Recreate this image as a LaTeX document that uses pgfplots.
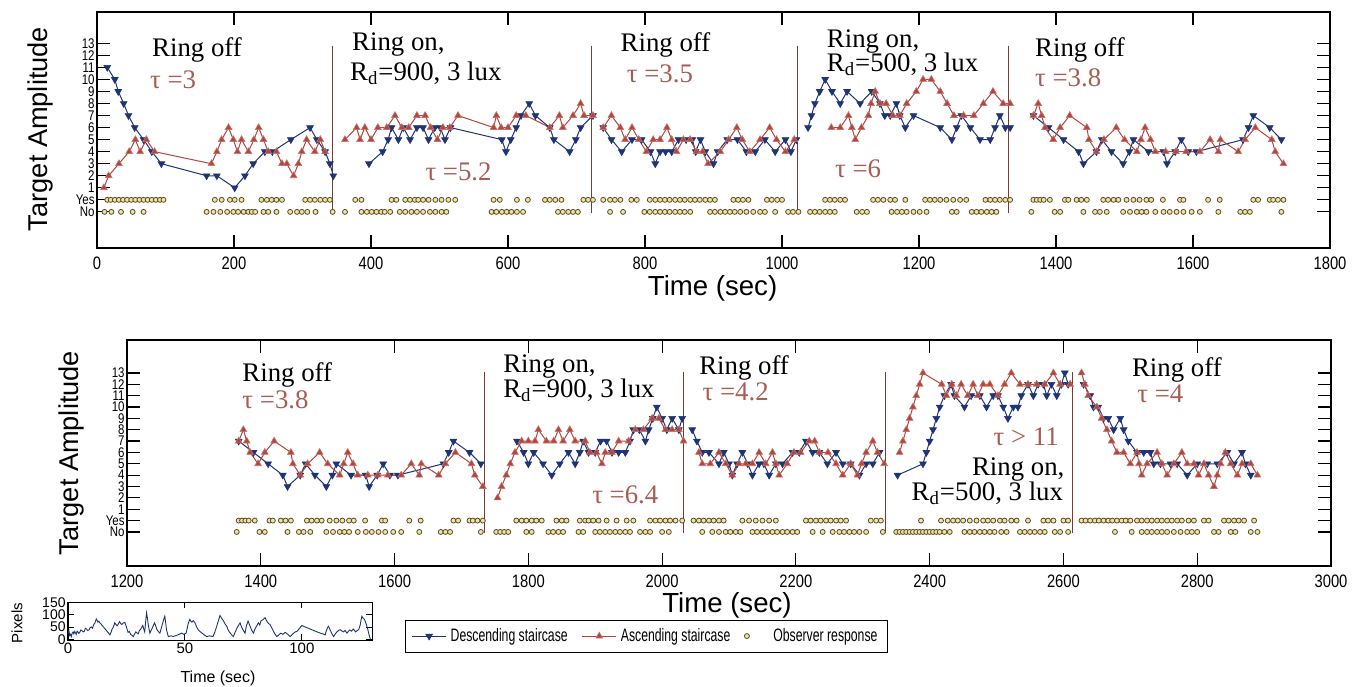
\documentclass[border=0pt]{standalone}
\usepackage{pgfplots}
\usepackage{pgfplotstable}
\pgfplotsset{compat=1.18}
\usepackage{fontspec}
\setmainfont{Liberation Sans}
\newfontfamily\serifa{Liberation Serif}
\newfontfamily\narrow[FakeStretch=0.82]{Liberation Sans}
\newfontfamily\legfont[FakeStretch=0.68]{Liberation Sans}
\definecolor{cblue}{RGB}{30,52,118}
\definecolor{cred}{RGB}{178,70,60}
\definecolor{ctau}{RGB}{168,92,82}
\definecolor{cline}{RGB}{120,60,48}
\definecolor{cyel}{RGB}{236,230,160}
\definecolor{cresp}{RGB}{95,72,42}

% ---------------- data ----------------
\pgfplotstableread[row sep=\\]{t v\\ 15 11\\ 26 10\\ 31 9\\ 39 8\\ 46 7\\ 55 6\\ 68 5\\ 80 4\\ 94 3\\ 160 2\\ 175 2\\ 201 1\\ 216 2\\ 228 3\\ 245 4\\ 256 4\\ 283 5\\ 311 6\\ 321 5\\ 333 4\\ 340 3\\ 345 2\\}\SoneD
\pgfplotstableread[row sep=\\]{t v\\ 10 1\\ 17 2\\ 32 3\\ 47 4\\ 56 5\\ 63 4\\ 72 5\\ 84 4\\ 167 3\\ 175 4\\ 182 5\\ 192 6\\ 199 5\\ 205 4\\ 211 5\\ 221 4\\ 229 5\\ 236 6\\ 243 5\\ 250 4\\ 262 4\\ 270 3\\ 277 3\\ 287 2\\ 294 3\\ 299 4\\ 306 5\\ 318 4\\ 326 5\\ 333 4\\}\SoneA
\pgfplotstableread[row sep=\\]{t v\\ 397 3\\ 417 4\\ 425 5\\ 430 6\\ 440 5\\ 447 6\\ 457 5\\ 467 6\\ 476 6\\ 484 5\\ 493 6\\ 501 6\\ 508 5\\ 516 6\\ 591 5\\ 597 4\\ 604 5\\ 612 6\\ 619 7\\ 631 8\\ 640 7\\ 661 6\\ 667 5\\ 690 4\\ 699 5\\ 706 6\\ 724 7\\}\StwoD
\pgfplotstableread[row sep=\\]{t v\\ 362 5\\ 379 6\\ 384 5\\ 391 6\\ 400 5\\ 410 6\\ 423 6\\ 435 7\\ 445 6\\ 455 6\\ 467 7\\ 479 7\\ 487 6\\ 497 5\\ 505 6\\ 515 6\\ 527 7\\ 579 6\\ 583 7\\ 590 6\\ 600 6\\ 612 7\\ 626 7\\ 661 6\\ 675 7\\ 680 6\\ 695 7\\ 706 8\\ 711 7\\ 724 7\\}\StwoA
\pgfplotstableread[row sep=\\]{t v\\ 739 6\\ 751 5\\ 766 4\\ 781 5\\ 795 5\\ 808 4\\ 815 3\\ 822 4\\ 830 4\\ 839 4\\ 849 5\\ 860 5\\ 869 5\\ 874 4\\ 881 5\\ 888 4\\ 900 3\\ 906 4\\ 920 5\\ 935 5\\ 948 4\\ 961 4\\ 975 5\\ 990 4\\ 1005 5\\ 1013 4\\ 1021 5\\}\SthreeD
\pgfplotstableread[row sep=\\]{t v\\ 739 6\\ 751 7\\ 764 6\\ 771 5\\ 781 6\\ 791 5\\ 802 4\\ 812 5\\ 822 5\\ 832 6\\ 839 5\\ 846 4\\ 856 5\\ 866 5\\ 875 4\\ 884 4\\ 892 3\\ 910 4\\ 922 5\\ 934 6\\ 942 5\\ 953 4\\ 968 5\\ 982 6\\ 992 5\\ 1005 4\\ 1018 5\\}\SthreeA
\pgfplotstableread[row sep=\\]{t v\\ 1038 6\\ 1043 7\\ 1048 8\\ 1055 9\\ 1063 10\\ 1073 9\\ 1085 8\\ 1095 9\\ 1114 8\\ 1131 9\\ 1143 8\\ 1150 7\\ 1158 7\\ 1167 8\\ 1172 7\\ 1180 6\\ 1192 7\\ 1231 6\\ 1248 5\\ 1255 6\\ 1262 7\\ 1275 6\\ 1289 5\\ 1304 5\\ 1311 6\\ 1318 7\\ 1326 6\\ 1333 6\\}\SfourD
\pgfplotstableread[row sep=\\]{t v\\ 1072 6\\ 1085 6\\ 1097 7\\ 1102 6\\ 1107 5\\ 1116 6\\ 1126 7\\ 1130 8\\ 1136 9\\ 1143 8\\ 1152 8\\ 1162 7\\ 1172 7\\ 1182 8\\ 1196 9\\ 1206 10\\ 1218 10\\ 1231 9\\ 1241 8\\ 1251 7\\ 1265 7\\ 1280 7\\ 1294 8\\ 1308 9\\ 1323 8\\ 1333 8\\}\SfourA
\pgfplotstableread[row sep=\\]{t v\\ 1367 7\\ 1389 6\\ 1411 5\\ 1433 4\\ 1440 3\\ 1459 4\\ 1467 5\\ 1481 4\\ 1498 3\\ 1507 4\\ 1513 5\\ 1535 4\\ 1557 4\\ 1562 3\\ 1574 4\\ 1583 5\\ 1593 4\\ 1605 4\\ 1673 5\\ 1681 6\\ 1688 7\\ 1712 6\\ 1729 5\\}\SfiveD
\pgfplotstableread[row sep=\\]{t v\\ 1367 7\\ 1374 8\\ 1379 7\\ 1384 6\\ 1396 5\\ 1406 6\\ 1420 7\\ 1445 6\\ 1448 5\\ 1459 4\\ 1470 5\\ 1488 6\\ 1500 5\\ 1518 4\\ 1524 5\\ 1530 6\\ 1538 5\\ 1545 4\\ 1560 4\\ 1575 4\\ 1590 4\\ 1610 4\\ 1625 5\\ 1637 4\\ 1640 5\\ 1666 4\\ 1676 5\\ 1691 6\\ 1715 5\\ 1720 4\\ 1732 3\\}\SfiveA
\pgfplotstableread[row sep=\\]{t v\\ 1783 7\\ 1793 6\\ 1800 5\\ 1808 6\\ 1822 5\\ 1835 4\\ 1847 5\\ 1860 6\\ 1870 5\\ 1877 6\\ 1882 7\\ 1890 6\\ 1900 6\\ 1908 7\\ 1917 7\\ 1925 6\\ 1935 6\\ 1945 6\\ 1952 7\\ 1957 8\\ 1966 8\\ 1975 7\\ 1980 8\\ 1986 9\\ 1992 10\\ 2000 9\\ 2007 8\\ 2015 9\\ 2025 8\\ 2030 9\\}\SsixD
\pgfplotstableread[row sep=\\]{t v\\ 1754 2\\ 1760 3\\ 1767 4\\ 1773 5\\ 1780 6\\ 1790 7\\ 1800 7\\ 1810 7\\ 1815 8\\ 1827 7\\ 1838 7\\ 1845 8\\ 1852 7\\ 1862 8\\ 1870 7\\ 1885 7\\ 1892 6\\ 1902 6\\ 1910 5\\ 1915 6\\ 1925 6\\ 1935 7\\ 1950 7\\ 1960 8\\ 1972 8\\ 1985 9\\ 1995 9\\ 2005 8\\ 2015 8\\ 2025 8\\ 2032 7\\}\SsixA
\pgfplotstableread[row sep=\\]{t v\\ 2045 8\\ 2052 7\\ 2060 6\\ 2070 6\\ 2085 5\\ 2092 6\\ 2100 5\\ 2105 4\\ 2112 5\\ 2120 6\\ 2128 5\\ 2135 4\\ 2145 5\\ 2152 5\\ 2160 4\\ 2170 5\\ 2180 5\\ 2195 6\\ 2205 6\\ 2215 7\\ 2225 6\\ 2235 6\\ 2247 5\\ 2260 6\\ 2270 5\\ 2282 5\\ 2295 4\\ 2305 5\\ 2315 5\\ 2325 6\\}\SsevenD
\pgfplotstableread[row sep=\\]{t v\\ 2055 6\\ 2060 5\\ 2072 5\\ 2085 6\\ 2095 5\\ 2105 4\\ 2115 5\\ 2125 5\\ 2135 5\\ 2145 6\\ 2155 5\\ 2165 6\\ 2170 5\\ 2175 4\\ 2187 5\\ 2197 6\\ 2207 6\\ 2220 7\\ 2228 7\\ 2235 6\\ 2248 6\\ 2260 5\\ 2270 4\\ 2282 5\\ 2292 4\\ 2298 5\\ 2305 6\\ 2315 7\\ 2322 6\\ 2332 5\\}\SsevenA
\pgfplotstableread[row sep=\\]{t v\\ 2352 4\\ 2390 5\\ 2395 6\\ 2400 7\\ 2405 8\\ 2410 9\\ 2415 10\\ 2422 11\\ 2432 12\\ 2437 11\\ 2452 10\\ 2462 11\\ 2475 11\\ 2485 10\\ 2495 11\\ 2502 11\\ 2510 10\\ 2517 9\\ 2525 10\\ 2532 10\\ 2537 11\\ 2547 12\\ 2555 11\\ 2562 12\\ 2570 12\\ 2575 11\\ 2582 12\\ 2590 11\\ 2597 12\\ 2602 13\\ 2607 12\\}\SeightD
\pgfplotstableread[row sep=\\]{t v\\ 2355 6\\ 2360 7\\ 2365 8\\ 2370 9\\ 2375 10\\ 2380 11\\ 2385 12\\ 2390 13\\ 2418 12\\ 2425 11\\ 2433 12\\ 2440 11\\ 2447 12\\ 2457 11\\ 2465 12\\ 2472 11\\ 2480 12\\ 2490 12\\ 2502 11\\ 2512 12\\ 2522 13\\ 2535 12\\ 2547 12\\ 2560 12\\ 2572 12\\ 2585 13\\ 2595 12\\ 2610 12\\}\SeightA
\pgfplotstableread[row sep=\\]{t v\\ 2630 12\\ 2640 11\\ 2645 10\\ 2652 10\\ 2660 9\\ 2667 9\\ 2675 8\\ 2685 9\\ 2690 8\\ 2697 7\\ 2710 6\\ 2720 6\\ 2730 6\\ 2735 5\\ 2745 5\\ 2760 5\\ 2770 5\\ 2785 4\\ 2800 5\\ 2815 5\\ 2830 5\\ 2845 6\\ 2855 5\\ 2867 6\\ 2872 5\\ 2880 4\\}\SnineD
\pgfplotstableread[row sep=\\]{t v\\ 2627 13\\ 2632 12\\ 2637 11\\ 2650 10\\ 2657 9\\ 2665 8\\ 2672 7\\ 2680 6\\ 2690 6\\ 2700 5\\ 2710 6\\ 2713 5\\ 2717 4\\ 2725 5\\ 2740 6\\ 2747 5\\ 2755 4\\ 2765 5\\ 2777 6\\ 2785 5\\ 2795 5\\ 2802 4\\ 2810 5\\ 2817 4\\ 2825 3\\ 2830 4\\ 2835 5\\ 2842 6\\ 2850 5\\ 2860 4\\ 2867 5\\ 2880 5\\ 2890 4\\}\SnineA
% observer responses: r = 0 (Yes) or -1 (No)
\pgfplotstableread[row sep=\\]{t r\\ 15 0\\ 20 0\\ 26 0\\ 32 0\\ 38 0\\ 44 0\\ 50 0\\ 56 0\\ 62 0\\ 68 0\\ 74 0\\ 80 0\\ 86 0\\ 92 0\\ 97 0\\ 172 0\\ 182 0\\ 194 0\\ 201 0\\ 211 0\\ 240 0\\ 248 0\\ 255 0\\ 262 0\\ 270 0\\ 304 0\\ 311 0\\ 318 0\\ 326 0\\ 333 0\\ 340 0\\ 377 0\\ 386 0\\ 430 0\\ 437 0\\ 450 0\\ 457 0\\ 464 0\\ 469 0\\ 476 0\\ 484 0\\ 494 0\\ 503 0\\ 513 0\\ 523 0\\ 579 0\\ 588 0\\ 613 0\\ 629 0\\ 654 0\\ 661 0\\ 669 0\\ 678 0\\ 710 0\\ 717 0\\ 724 0\\ 739 0\\ 749 0\\ 756 0\\ 764 0\\ 780 0\\ 788 0\\ 807 0\\ 815 0\\ 822 0\\ 829 0\\ 836 0\\ 844 0\\ 851 0\\ 858 0\\ 866 0\\ 873 0\\ 880 0\\ 888 0\\ 895 0\\ 902 0\\ 929 0\\ 936 0\\ 943 0\\ 951 0\\ 978 0\\ 985 0\\ 993 0\\ 1000 0\\ 1063 0\\ 1070 0\\ 1077 0\\ 1085 0\\ 1092 0\\ 1133 0\\ 1140 0\\ 1148 0\\ 1158 0\\ 1165 0\\ 1180 0\\ 1209 0\\ 1216 0\\ 1223 0\\ 1231 0\\ 1240 0\\ 1250 0\\ 1260 0\\ 1269 0\\ 1297 0\\ 1304 0\\ 1311 0\\ 1318 0\\ 1326 0\\ 1333 0\\
11 -1\\ 21 -1\\ 35 -1\\ 52 -1\\ 68 -1\\ 160 -1\\ 170 -1\\ 180 -1\\ 190 -1\\ 199 -1\\ 206 -1\\ 214 -1\\ 221 -1\\ 226 -1\\ 231 -1\\ 243 -1\\ 250 -1\\ 262 -1\\ 282 -1\\ 292 -1\\ 299 -1\\ 307 -1\\ 319 -1\\ 344 -1\\ 362 -1\\ 386 -1\\ 394 -1\\ 401 -1\\ 408 -1\\ 415 -1\\ 420 -1\\ 428 -1\\ 442 -1\\ 450 -1\\ 459 -1\\ 467 -1\\ 476 -1\\ 486 -1\\ 494 -1\\ 503 -1\\ 510 -1\\ 576 -1\\ 583 -1\\ 591 -1\\ 598 -1\\ 605 -1\\ 613 -1\\ 622 -1\\ 673 -1\\ 680 -1\\ 688 -1\\ 695 -1\\ 702 -1\\ 749 -1\\ 768 -1\\ 799 -1\\ 807 -1\\ 815 -1\\ 822 -1\\ 829 -1\\ 836 -1\\ 844 -1\\ 851 -1\\ 858 -1\\ 866 -1\\ 895 -1\\ 902 -1\\ 910 -1\\ 917 -1\\ 924 -1\\ 931 -1\\ 939 -1\\ 948 -1\\ 958 -1\\ 968 -1\\ 975 -1\\ 990 -1\\ 1009 -1\\ 1016 -1\\ 1024 -1\\ 1041 -1\\ 1048 -1\\ 1055 -1\\ 1063 -1\\ 1070 -1\\ 1077 -1\\ 1109 -1\\ 1117 -1\\ 1124 -1\\ 1160 -1\\ 1168 -1\\ 1175 -1\\ 1182 -1\\ 1192 -1\\ 1201 -1\\ 1211 -1\\ 1248 -1\\ 1255 -1\\ 1277 -1\\ 1284 -1\\ 1291 -1\\ 1299 -1\\ 1306 -1\\ 1313 -1\\}\RespA
\pgfplotstableread[row sep=\\]{t r\\ 1367 0\\ 1372 0\\ 1377 0\\ 1382 0\\ 1391 0\\ 1413 0\\ 1418 0\\ 1430 0\\ 1437 0\\ 1445 0\\ 1469 0\\ 1476 0\\ 1484 0\\ 1491 0\\ 1503 0\\ 1513 0\\ 1522 0\\ 1532 0\\ 1539 0\\ 1556 0\\ 1581 0\\ 1586 0\\ 1622 0\\ 1639 0\\ 1688 0\\ 1695 0\\ 1712 0\\ 1717 0\\ 1724 0\\ 1732 0\\
1364 -1\\ 1398 -1\\ 1406 -1\\ 1440 -1\\ 1457 -1\\ 1464 -1\\ 1474 -1\\ 1498 -1\\ 1508 -1\\ 1518 -1\\ 1525 -1\\ 1532 -1\\ 1545 -1\\ 1557 -1\\ 1566 -1\\ 1576 -1\\ 1586 -1\\ 1598 -1\\ 1610 -1\\ 1637 -1\\ 1669 -1\\ 1676 -1\\ 1683 -1\\ 1729 -1\\}\RespB
\pgfplotstableread[row sep=\\]{t r\\ 1782 0\\ 1790 0\\ 1797 0\\ 1805 0\\ 1812 0\\ 1820 0\\ 1842 0\\ 1850 0\\ 1857 0\\ 1877 0\\ 1885 0\\ 1890 0\\ 1897 0\\ 1905 0\\ 1917 0\\ 1932 0\\ 1947 0\\ 1957 0\\ 1982 0\\ 1990 0\\ 1997 0\\ 2005 0\\ 2012 0\\ 2020 0\\ 2030 0\\ 2047 0\\ 2055 0\\ 2062 0\\ 2070 0\\ 2077 0\\ 2085 0\\ 2092 0\\ 2120 0\\ 2130 0\\ 2140 0\\ 2150 0\\ 2160 0\\ 2170 0\\ 2215 0\\ 2222 0\\ 2230 0\\ 2237 0\\ 2245 0\\ 2252 0\\ 2260 0\\ 2267 0\\ 2275 0\\ 2312 0\\ 2320 0\\ 2327 0\\ 2387 0\\ 2417 0\\ 2427 0\\ 2435 0\\ 2442 0\\ 2450 0\\ 2460 0\\ 2470 0\\ 2480 0\\ 2487 0\\ 2495 0\\ 2505 0\\ 2512 0\\ 2522 0\\ 2530 0\\ 2547 0\\ 2570 0\\ 2577 0\\ 2585 0\\ 2600 0\\ 2607 0\\ 2627 0\\ 2633 0\\ 2640 0\\ 2647 0\\ 2653 0\\ 2660 0\\ 2667 0\\ 2673 0\\ 2680 0\\ 2687 0\\ 2693 0\\ 2700 0\\ 2710 0\\ 2717 0\\ 2725 0\\ 2732 0\\ 2740 0\\ 2747 0\\ 2755 0\\ 2762 0\\ 2770 0\\ 2777 0\\ 2787 0\\ 2795 0\\ 2810 0\\ 2817 0\\ 2840 0\\ 2847 0\\ 2855 0\\ 2862 0\\ 2870 0\\ 2885 0\\
1752 -1\\ 1758 -1\\ 1764 -1\\ 1770 -1\\ 1797 -1\\ 1805 -1\\ 1830 -1\\ 1837 -1\\ 1845 -1\\ 1852 -1\\ 1875 -1\\ 1882 -1\\ 1900 -1\\ 1907 -1\\ 1915 -1\\ 1922 -1\\ 1930 -1\\ 1937 -1\\ 1945 -1\\ 1952 -1\\ 1967 -1\\ 1975 -1\\ 1982 -1\\ 2000 -1\\ 2010 -1\\ 2060 -1\\ 2075 -1\\ 2085 -1\\ 2095 -1\\ 2102 -1\\ 2110 -1\\ 2117 -1\\ 2135 -1\\ 2142 -1\\ 2150 -1\\ 2157 -1\\ 2165 -1\\ 2172 -1\\ 2180 -1\\ 2187 -1\\ 2195 -1\\ 2202 -1\\ 2225 -1\\ 2240 -1\\ 2255 -1\\ 2265 -1\\ 2272 -1\\ 2280 -1\\ 2287 -1\\ 2295 -1\\ 2305 -1\\ 2330 -1\\ 2350 -1\\ 2355 -1\\ 2360 -1\\ 2365 -1\\ 2370 -1\\ 2375 -1\\ 2380 -1\\ 2385 -1\\ 2390 -1\\ 2395 -1\\ 2400 -1\\ 2405 -1\\ 2410 -1\\ 2415 -1\\ 2422 -1\\ 2430 -1\\ 2452 -1\\ 2460 -1\\ 2467 -1\\ 2475 -1\\ 2482 -1\\ 2490 -1\\ 2497 -1\\ 2507 -1\\ 2515 -1\\ 2535 -1\\ 2542 -1\\ 2550 -1\\ 2557 -1\\ 2565 -1\\ 2572 -1\\ 2587 -1\\ 2595 -1\\ 2607 -1\\ 2677 -1\\ 2702 -1\\ 2717 -1\\ 2725 -1\\ 2732 -1\\ 2740 -1\\ 2747 -1\\ 2755 -1\\ 2765 -1\\ 2775 -1\\ 2785 -1\\ 2792 -1\\ 2800 -1\\ 2825 -1\\ 2832 -1\\ 2850 -1\\ 2857 -1\\ 2880 -1\\ 2890 -1\\}\RespC
\pgfplotstableread[row sep=\\]{t p\\ 0 25\\ 0.4 35\\ 0.7 15\\ 1.1 20\\ 1.4 11\\ 1.8 25\\ 2.2 30\\ 2.5 22\\ 2.9 32\\ 3.5 20\\ 3.9 33\\ 4.2 30\\ 4.6 24\\ 5 28\\ 5.5 38\\ 6 35\\ 6.5 30\\ 7 33\\ 7.4 45\\ 7.9 42\\ 8.4 36\\ 9 38\\ 9.5 48\\ 10 50\\ 10.5 45\\ 11 60\\ 11.5 66\\ 12.1 83\\ 12.5 76\\ 12.8 70\\ 13.2 74\\ 13.6 67\\ 14.3 60\\ 15 52\\ 16.5 35\\ 17.9 18\\ 18.4 28\\ 18.8 40\\ 19.4 50\\ 20 67\\ 20.5 60\\ 21 55\\ 21.5 62\\ 22 72\\ 22.5 65\\ 23 60\\ 23.6 66\\ 24.3 69\\ 24.7 58\\ 25 50\\ 25.3 40\\ 25.7 28\\ 26.2 32\\ 26.8 20\\ 27.4 16\\ 27.9 11\\ 28.5 22\\ 29 30\\ 29.5 26\\ 30 22\\ 30.5 35\\ 31 40\\ 31.5 48\\ 32 56\\ 32.4 42\\ 32.8 30\\ 33.2 70\\ 33.6 108\\ 34 85\\ 34.3 60\\ 34.7 40\\ 35 25\\ 35.5 35\\ 36 45\\ 36.5 56\\ 37 67\\ 37.5 55\\ 38 40\\ 38.6 32\\ 39.3 25\\ 39.8 42\\ 40.3 60\\ 40.9 80\\ 41.4 94\\ 41.8 65\\ 42.1 40\\ 42.5 25\\ 42.9 11\\ 44 14\\ 45 11\\ 47 18\\ 48.6 25\\ 49.5 20\\ 50.5 25\\ 51 45\\ 51.3 60\\ 51.7 72\\ 52.1 81\\ 52.5 74\\ 53 70\\ 53.6 76\\ 54.3 67\\ 54.8 55\\ 55.3 45\\ 55.8 38\\ 56.4 32\\ 57.2 26\\ 58 20\\ 58.7 15\\ 59.3 11\\ 60.5 14\\ 62 11\\ 62.8 30\\ 63.5 50\\ 64.3 75\\ 65 97\\ 65.7 86\\ 66.5 75\\ 67.2 62\\ 67.9 53\\ 68.4 40\\ 69 30\\ 69.8 20\\ 70.7 11\\ 71.3 25\\ 72 40\\ 72.8 55\\ 73.6 67\\ 74 55\\ 74.5 45\\ 75.1 34\\ 75.7 25\\ 76.3 55\\ 77 74\\ 77.5 62\\ 78 50\\ 78.6 36\\ 79.3 25\\ 79.8 38\\ 80.4 50\\ 81 60\\ 81.4 67\\ 82 58\\ 82.5 75\\ 83.4 80\\ 84.3 88\\ 84.8 78\\ 85.3 70\\ 85.8 64\\ 86.4 60\\ 87.2 45\\ 88 30\\ 88.6 20\\ 89.3 11\\ 90.2 18\\ 91 25\\ 91.9 20\\ 92.9 28\\ 93.5 24\\ 94 20\\ 94.5 15\\ 95 11\\ 95.7 18\\ 96.5 25\\ 97.2 30\\ 97.9 32\\ 99 45\\ 100 56\\ 102 48\\ 104 40\\ 106 32\\ 107.9 25\\ 109 22\\ 110 18\\ 110.3 30\\ 110.7 40\\ 111 48\\ 111.4 53\\ 112 40\\ 112.5 30\\ 113 20\\ 113.6 11\\ 114.3 22\\ 115 30\\ 115.7 36\\ 116.4 39\\ 117.1 34\\ 117.8 30\\ 118.5 36\\ 119.3 25\\ 119.9 32\\ 120.5 38\\ 121.2 33\\ 122 42\\ 122.5 36\\ 123 30\\ 123.6 35\\ 124.3 39\\ 124.7 50\\ 125 60\\ 125.3 78\\ 125.7 94\\ 126 88\\ 126.4 85\\ 126.8 80\\ 127.1 74\\ 127.6 60\\ 128.2 40\\ 128.7 20\\ 129.3 0\\}\Pix

\pgfplotsset{
  desc/.style={color=cblue, line width=0.5pt, mark=triangle*, mark size=1.95pt, mark options={rotate=180, fill=cblue, draw=cblue, line width=0.3pt}},
  asc/.style={color=cred, line width=0.5pt, mark=triangle*, mark size=1.95pt, mark options={fill=cred, draw=cred!75!white, line width=0.3pt}},
  resp/.style={only marks, mark=*, mark size=1.25pt, mark options={fill=cyel, draw=cresp, line width=0.4pt}},
  sess/.style={color=cline, line width=0.5pt, no marks},
  panel/.style={scale only axis, axis line style={black, line width=0.6pt},
    every tick/.style={black, line width=0.6pt}, major tick length=6.5pt, tick align=inside,
    ytick={-1,0,1,2,3,4,5,6,7,8,9,10,11,12,13},
    yticklabels={No,Yes,1,2,3,4,5,6,7,8,9,10,11,12,13},
    xticklabel style={font=\narrow\fontsize{9}{9}\selectfont, yshift=-1pt},
    yticklabel style={font=\narrow\fontsize{7}{7}\selectfont, inner sep=1pt},
    /pgf/number format/assume math mode=true, /pgf/number format/1000 sep={},
    scaled x ticks=false},
}
\newcommand\ringf{\serifa\fontsize{13.4}{14}\selectfont}

\begin{document}
\begin{tikzpicture}[x=1pt,y=1pt]
\useasboundingbox (0,0) rectangle (680,343);
% ---------------- top panel ----------------
\begin{axis}[panel, at={(48.5pt,219pt)}, anchor=south west, width=616.5pt, height=118pt,
  xmin=0, xmax=1800, ymin=-4, ymax=15.6, xtick={0,200,...,1800}]
\addplot[resp] table[x=t,y=r] {\RespA};
\addplot[resp] table[x=t,y=r] {\RespB};
\addplot[sess] coordinates {(344,12.8) (344,-1.1)};
\addplot[sess] coordinates {(722,12.8) (722,-1.1)};
\addplot[sess] coordinates {(1023,12.8) (1023,-1.1)};
\addplot[sess] coordinates {(1331,12.8) (1331,-1.1)};
\addplot[desc] table[x=t,y=v] {\SoneD};
\addplot[desc] table[x=t,y=v] {\StwoD};
\addplot[desc] table[x=t,y=v] {\SthreeD};
\addplot[desc] table[x=t,y=v] {\SfourD};
\addplot[desc] table[x=t,y=v] {\SfiveD};
\addplot[asc] table[x=t,y=v] {\SoneA};
\addplot[asc] table[x=t,y=v] {\StwoA};
\addplot[asc] table[x=t,y=v] {\SthreeA};
\addplot[asc] table[x=t,y=v] {\SfourA};
\addplot[asc] table[x=t,y=v] {\SfiveA};
\node[anchor=west, inner sep=0, font=\ringf] at (axis cs:80,12.45) {Ring off};
\node[anchor=west, inner sep=0, font=\ringf, text=ctau] at (axis cs:77,9.95) {τ =3};
\node[anchor=west, inner sep=0, font=\ringf] at (axis cs:372,12.86) {Ring on,};
\node[anchor=west, inner sep=0, font=\ringf] at (axis cs:369,10.5) {R\textsubscript{d}=900, 3 lux};
\node[anchor=west, inner sep=0, font=\ringf, text=ctau] at (axis cs:479,2.3) {τ =5.2};
\node[anchor=west, inner sep=0, font=\ringf] at (axis cs:764,12.86) {Ring off};
\node[anchor=west, inner sep=0, font=\ringf, text=ctau] at (axis cs:773,10.5) {τ =3.5};
\node[anchor=west, inner sep=0, font=\ringf] at (axis cs:1065,13.15) {Ring on,};
\node[anchor=west, inner sep=0, font=\ringf] at (axis cs:1065,11.25) {R\textsubscript{d}=500, 3 lux};
\node[anchor=west, inner sep=0, font=\ringf, text=ctau] at (axis cs:1077,2.6) {τ =6};
\node[anchor=west, inner sep=0, font=\ringf] at (axis cs:1369,12.45) {Ring off};
\node[anchor=west, inner sep=0, font=\ringf, text=ctau] at (axis cs:1369,10.1) {τ =3.8};
\end{axis}
% ---------------- bottom panel ----------------
\begin{axis}[panel, at={(63.5pt,60pt)}, anchor=south west, width=602pt, height=113pt,
  xmin=1200, xmax=3000, ymin=-4, ymax=15.9, xtick={1200,1400,...,3000},
  legend style={at={(0.4315,-0.31)}, anchor=center, legend columns=3, draw=black,
    font=\legfont\fontsize{9}{10}\selectfont, inner xsep=3pt, inner ysep=2pt,
    /tikz/every even column/.append style={column sep=5pt}}]
\addlegendimage{desc}\addlegendentry{Descending staircase}
\addlegendimage{asc}\addlegendentry{Ascending staircase}
\addlegendimage{resp}\addlegendentry{\hspace{10pt}Observer response}
\addplot[resp, forget plot] table[x=t,y=r] {\RespB};
\addplot[resp, forget plot] table[x=t,y=r] {\RespC};
\addplot[sess, forget plot] coordinates {(1734,13.1) (1734,-1.1)};
\addplot[sess, forget plot] coordinates {(2032,13.1) (2032,-1.1)};
\addplot[sess, forget plot] coordinates {(2334,13.1) (2334,-1.1)};
\addplot[sess, forget plot] coordinates {(2613,13.1) (2613,-1.1)};
\addplot[desc, forget plot] table[x=t,y=v] {\SfiveD};
\addplot[desc, forget plot] table[x=t,y=v] {\SsixD};
\addplot[desc, forget plot] table[x=t,y=v] {\SsevenD};
\addplot[desc, forget plot] table[x=t,y=v] {\SeightD};
\addplot[desc, forget plot] table[x=t,y=v] {\SnineD};
\addplot[asc, forget plot] table[x=t,y=v] {\SfiveA};
\addplot[asc, forget plot] table[x=t,y=v] {\SsixA};
\addplot[asc, forget plot] table[x=t,y=v] {\SsevenA};
\addplot[asc, forget plot] table[x=t,y=v] {\SeightA};
\addplot[asc, forget plot] table[x=t,y=v] {\SnineA};
\node[anchor=west, inner sep=0, font=\ringf] at (axis cs:1372,12.8) {Ring off};
\node[anchor=west, inner sep=0, font=\ringf, text=ctau] at (axis cs:1372,10.6) {τ =3.8};
\node[anchor=west, inner sep=0, font=\ringf] at (axis cs:1762,13.55) {Ring on,};
\node[anchor=west, inner sep=0, font=\ringf] at (axis cs:1762,11.5) {R\textsubscript{d}=900, 3 lux};
\node[anchor=west, inner sep=0, font=\ringf, text=ctau] at (axis cs:1895,2.26) {τ =6.4};
\node[anchor=west, inner sep=0, font=\ringf] at (axis cs:2055,13.4) {Ring off};
\node[anchor=west, inner sep=0, font=\ringf, text=ctau] at (axis cs:2060,11.35) {τ =4.2};
\node[anchor=west, inner sep=0, font=\ringf, text=ctau] at (axis cs:2495,7.4) {τ > 11};
\node[anchor=east, inner sep=0, font=\ringf] at (axis cs:2602,4.46) {Ring on,};
\node[anchor=east, inner sep=0, font=\ringf] at (axis cs:2600,2.4) {R\textsubscript{d}=500, 3 lux};
\node[anchor=west, inner sep=0, font=\ringf] at (axis cs:2702,13.26) {Ring off};
\node[anchor=west, inner sep=0, font=\ringf, text=ctau] at (axis cs:2710,11.2) {τ =4};
\end{axis}
% ---------------- inset ----------------
\begin{axis}[scale only axis, at={(34pt,23pt)}, anchor=south west, width=152pt, height=19pt,
  xmin=0, xmax=130, ymin=-3, ymax=152, xtick={0,50,100}, ytick={0,50,100,150},
  axis line style={black, line width=0.5pt}, every tick/.style={black, line width=0.5pt},
  major tick length=3pt, tick align=inside,
  xticklabel style={font=\fontsize{7.5}{7.5}\selectfont, inner sep=1.5pt},
  yticklabel style={font=\fontsize{7}{6}\selectfont, inner sep=1pt},
  /pgf/number format/assume math mode=true]
\addplot[color=cblue, line width=0.45pt, no marks] table[x=t,y=p] {\Pix};
\end{axis}
% ---------------- axis titles ----------------
\node[rotate=90, font=\fontsize{13.6}{14}\selectfont] at (20,278.5) {Target Amplitude};
\node[font=\fontsize{13.8}{14}\selectfont] at (356.3,199) {Time (sec)};
\node[rotate=90, font=\fontsize{13.6}{14}\selectfont] at (35.5,116.5) {Target Amplitude};
\node[font=\fontsize{13.8}{14}\selectfont] at (363.5,40.5) {Time (sec)};
\node[rotate=90, font=\fontsize{7.5}{7.5}\selectfont] at (8.5,31.5) {Pixels};
\node[font=\fontsize{8}{8}\selectfont] at (109,3.8) {Time (sec)};
\end{tikzpicture}
\end{document}
